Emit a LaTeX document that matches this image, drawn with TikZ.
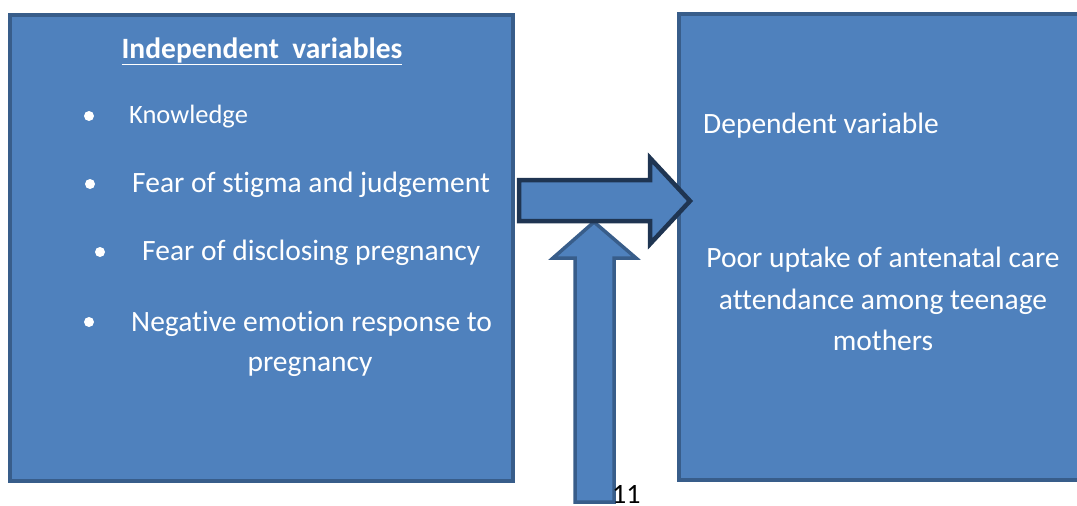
\documentclass[tikz,border=0pt]{standalone}
\usepackage{fontspec}
\setmainfont[Ligatures={NoCommon}]{Carlito}
\definecolor{boxfill}{HTML}{4F81BD}
\definecolor{boxline}{HTML}{385D8A}
\definecolor{darkline}{HTML}{1F3552}
\begin{document}
\begin{tikzpicture}[x=1pt,y=-1pt,
  box/.style={draw=boxline, fill=boxfill, line width=4pt},
  txt/.style={text=white, inner sep=0pt, font=\fontsize{29.5}{34}\selectfont},
  bul/.style={fill=white, circle, inner sep=0pt, minimum size=10pt},
]
\useasboundingbox (0,0) rectangle (1077,506);
\clip (0,0) rectangle (1077,506);
% boxes
\draw[box] (10,15) rectangle (513,481);
\draw[box] (679,14) rectangle (1095,480);
% vertical arrow
\draw[draw=boxline, fill=boxfill, line width=3.5pt, line join=miter]
  (575,502) -- (575,258) -- (553,258) -- (594,222) -- (636,258) -- (614,258) -- (614,502) -- cycle;
% horizontal arrow
\draw[draw=darkline, fill=boxfill, line width=4.5pt, line join=miter]
  (519,180) -- (650,180) -- (650,158) -- (690,201) -- (650,244) -- (650,221) -- (519,221) -- cycle;
% left texts
\node[txt, anchor=base, font=\fontsize{29.5}{34}\selectfont\bfseries] (title) at (262,58) {\underline{Independent\ \ variables}};
\node[bul] (b1) at (89,116) {};
\node[txt, anchor=base west, font=\fontsize{26.5}{30}\selectfont] (t1) at (129,123) {Knowledge};
\node[bul] (b2) at (90,184) {};
\node[txt, anchor=base west] (t2) at (132,192) {Fear of stigma and judgement};
\node[bul] (b3) at (100,252) {};
\node[txt, anchor=base west] (t3) at (142,260) {Fear of disclosing pregnancy};
\node[bul] (b4) at (89,322) {};
\node[txt, anchor=base west] (t4) at (131,331) {Negative emotion response to};
\node[txt, anchor=base] (t5) at (310,371) {pregnancy};
% right texts
\node[txt, anchor=base west] (d1) at (703,133) {Dependent variable};
\node[txt, anchor=base] (d2) at (883,267) {Poor uptake of antenatal care};
\node[txt, anchor=base] (d3) at (883,309) {attendance among teenage};
\node[txt, anchor=base] (d4) at (883,350) {mothers};
% page number
\node[inner sep=0pt, anchor=base west, font=\fontsize{28}{32}\selectfont] (pg) at (612,503) {11};
\end{tikzpicture}
\end{document}
